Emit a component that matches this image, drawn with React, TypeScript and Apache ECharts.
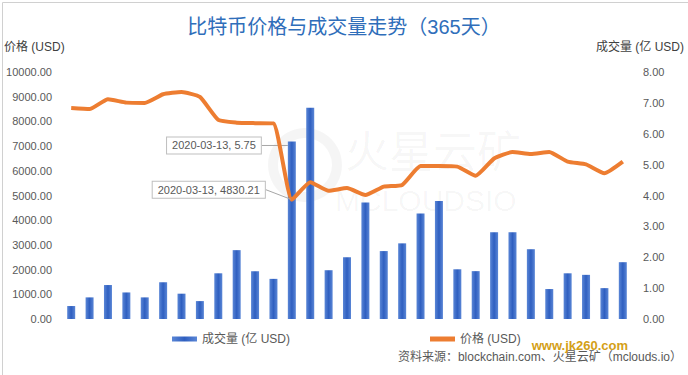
import React, { useEffect, useRef } from "react";
import * as echarts from "echarts";

const categories: string[] = Array.from({ length: 31 }, (_, i) => `P${i + 1}`);
const volume: number[] = [
  0.42, 0.7, 1.1, 0.86, 0.7, 1.19, 0.82, 0.58, 1.48, 2.23, 1.55, 1.3, 5.75, 6.84, 1.58, 2.0,
  3.77, 2.2, 2.45, 3.42, 3.82, 1.61, 1.55, 2.81, 2.81, 2.26, 0.97, 1.48, 1.43, 1.0, 1.84,
];
const price: number[] = [
  8540, 8500, 8900, 8760, 8750, 9100, 9190, 8990, 8060, 7950, 7930, 7920, 4830.21, 5540, 5190,
  5300, 5020, 5360, 5430, 6190, 6190, 6170, 5800, 6500, 6760, 6680, 6760, 6370, 6260, 5900, 6370,
];
const highlightIndex = 12;
const highlightDate = "2020-03-13";
const leftTicks = { min: 0, max: 10000, interval: 1000 };
const rightTicks = { min: 0, max: 8, interval: 1 };

const FONT = "'Liberation Sans', 'Noto Sans CJK SC', sans-serif";

export default function App() {
  const ref = useRef<HTMLDivElement>(null);
  useEffect(() => {
    const chart = echarts.init(ref.current!, null, { renderer: "svg" });
    const boxLabel = {
      show: true,
      backgroundColor: "#fff",
      borderColor: "#bfbfbf",
      borderWidth: 1,
      padding: [3, 5, 2, 5],
      color: "#595959",
      fontSize: 11,
      fontFamily: FONT,
    };
    const barData = volume.map((v, i) =>
      i === highlightIndex
        ? { value: v, label: { ...boxLabel, position: "top", formatter: `${highlightDate}, ${v.toFixed(2)}` } }
        : v
    );
    const lineData = price.map((v, i) =>
      i === highlightIndex
        ? {
            value: v,
            symbol: "circle",
            symbolSize: 2,
            label: { ...boxLabel, position: "top", formatter: `${highlightDate}, ${v.toFixed(2)}` },
          }
        : v
    );
    chart.setOption({
      animation: false,
      textStyle: { fontFamily: FONT },
      title: {
        text: "比特币价格与成交量走势（365天）",
        left: "center",
        top: 12,
        textStyle: { color: "#2f6eba", fontSize: 20, fontWeight: "normal", fontFamily: FONT },
      },
      grid: { left: 62, right: 56, top: 72, bottom: 56 },
      legend: {
        left: 167,
        top: 328,
        itemGap: 140,
        itemWidth: 25,
        itemHeight: 5,
        textStyle: { color: "#595959", fontSize: 12, fontFamily: FONT },
        data: [
          { name: "成交量 (亿 USD)", icon: "rect" },
          { name: "价格 (USD)", icon: "rect" },
        ],
      },
      xAxis: {
        type: "category",
        data: categories,
        axisLine: { show: false },
        axisTick: { show: false },
        axisLabel: { show: false },
      },
      yAxis: [
        {
          type: "value",
          ...leftTicks,
          splitLine: { show: false },
          axisLabel: { color: "#595959", fontSize: 11, formatter: (v: number) => v.toFixed(2), margin: 10 },
        },
        {
          type: "value",
          ...rightTicks,
          splitLine: { show: false },
          axisLabel: { color: "#595959", fontSize: 11, formatter: (v: number) => v.toFixed(2), margin: 11 },
        },
      ],
      series: [
        {
          name: "成交量 (亿 USD)",
          type: "bar",
          yAxisIndex: 1,
          barWidth: 8,
          data: barData,
          itemStyle: {
            color: new echarts.graphic.LinearGradient(0, 0, 1, 0, [
              { offset: 0, color: "#5a86d6" },
              { offset: 0.5, color: "#2f5fc0" },
              { offset: 1, color: "#5a86d6" },
            ]),
          },
          labelLine: { show: true, lineStyle: { color: "#a6a6a6", width: 1 } },
          labelLayout: (p: any) =>
            p.dataIndex === highlightIndex
              ? { x: p.rect.x - 27, y: p.rect.y + 4, align: "right", verticalAlign: "middle" }
              : {},
          z: 2,
        },
        {
          name: "价格 (USD)",
          type: "line",
          yAxisIndex: 0,
          data: lineData,
          symbol: "none",
          smooth: 0.15,
          itemStyle: { color: "#ed7d31" },
          lineStyle: { color: "#ed7d31", width: 4 },
          labelLine: { show: true, lineStyle: { color: "#a6a6a6", width: 1 } },
          labelLayout: (p: any) =>
            p.dataIndex === highlightIndex
              ? { x: p.rect.x - 26, y: p.rect.y - 9, align: "right", verticalAlign: "middle" }
              : {},
          z: 3,
        },
      ],
      graphic: [
        { type: "rect", left: 0, top: 0, shape: { width: 687, height: 374 }, style: { fill: "none", stroke: "#d0d0d0", lineWidth: 1 }, z: -10 },
        { type: "text", left: 4, top: 41, style: { text: "价格 (USD)", fill: "#404040", fontSize: 12, fontFamily: FONT } },
        { type: "text", right: 4, top: 41, style: { text: "成交量 (亿 USD)", fill: "#404040", fontSize: 12, fontFamily: FONT } },
        { type: "text", left: 345, top: 130, style: { text: "火星云矿", fill: "rgba(0,0,0,0.04)", fontSize: 44, fontFamily: FONT } },
        { type: "text", left: 335, top: 185, style: { text: "MCLOUDSIO", fill: "rgba(0,0,0,0.04)", fontSize: 30, fontFamily: FONT } },
        { type: "circle", shape: { cx: 305, cy: 165, r: 32 }, style: { fill: "none", stroke: "rgba(0,0,0,0.04)", lineWidth: 10 } },
        {
          type: "text",
          right: 6,
          top: 351,
          style: { text: "资料来源：blockchain.com、火星云矿（mclouds.io）", fill: "#595959", fontSize: 12, fontFamily: FONT },
        },
        {
          type: "text",
          right: 60,
          top: 339,
          style: { text: "www.jk260.com", fill: "#d4a017", fontSize: 13, fontWeight: "bold", fontFamily: FONT },
        },
      ],
    });
    return () => chart.dispose();
  }, []);
  return <div ref={ref} style={{ position: "fixed", left: 0, top: 0, width: 688, height: 375, background: "#fff" }} />;
}
